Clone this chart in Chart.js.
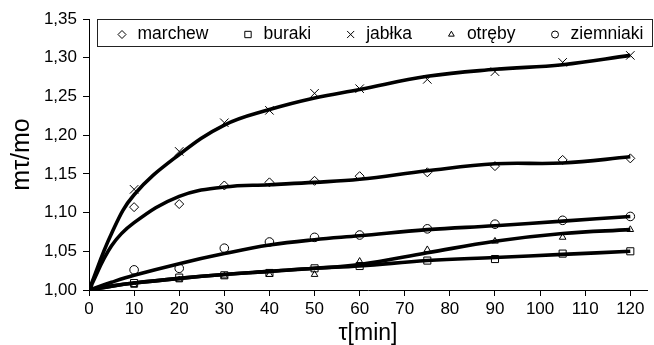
<!DOCTYPE html>
<html><head><meta charset="utf-8">
<script src="https://cdn.jsdelivr.net/npm/chart.js@4"></script>
<style>html,body{margin:0;padding:0;background:#fff}#wrap{width:654px;height:345px;position:relative}</style>
</head><body><div id="wrap"><canvas id="c" width="654" height="345"></canvas></div>
<script>
// ---- data ----
const times = [0, 10, 20, 30, 40, 50, 60, 75, 90, 105, 120];
const seriesNames = ['marchew', 'buraki', 'jabłka', 'otręby', 'ziemniaki'];
// measured points (markers)
const marchew   = [1.000, 1.107, 1.111, 1.135, 1.139, 1.141, 1.147, 1.152, 1.160, 1.168, 1.170];
const buraki    = [1.000, 1.009, 1.016, 1.019, 1.022, 1.028, 1.031, 1.038, 1.040, 1.047, 1.050];
const jablka    = [1.000, 1.130, 1.179, 1.216, 1.232, 1.254, 1.260, 1.272, 1.282, 1.294, 1.303];
const otreby    = [1.000, 1.006, 1.013, 1.018, 1.020, 1.020, 1.037, 1.052, 1.063, 1.068, 1.078];
const ziemniaki = [1.000, 1.026, 1.028, 1.054, 1.062, 1.068, 1.071, 1.079, 1.085, 1.090, 1.095];
// fitted trend curves
const fitTimes     = [0, 5, 10, 20, 30, 40, 50, 60, 75, 90, 105, 120];
const marchewFit   = [1.000, 1.057, 1.087, 1.121, 1.133, 1.136, 1.139, 1.143, 1.154, 1.163, 1.164, 1.172];
const burakiFit    = [1.000, 1.005, 1.009, 1.015, 1.020, 1.024, 1.028, 1.031, 1.038, 1.042, 1.046, 1.050];
const jablkaFit    = [1.000, 1.073, 1.123, 1.175, 1.213, 1.233, 1.248, 1.259, 1.276, 1.285, 1.291, 1.303];
const otrebyFit    = [1.000, 1.005, 1.009, 1.015, 1.020, 1.024, 1.028, 1.033, 1.048, 1.063, 1.073, 1.078];
const ziemniakiFit = [1.000, 1.010, 1.019, 1.034, 1.047, 1.058, 1.065, 1.070, 1.078, 1.083, 1.089, 1.095];
const xTicks = [0, 10, 20, 30, 40, 50, 60, 70, 80, 90, 100, 110, 120];
const yTicks = [1.00, 1.05, 1.10, 1.15, 1.20, 1.25, 1.30, 1.35];
const xTitle = 'τ[min]';
const yTitle = 'mτ/mo';

// ---- styles ----
const FONT = "'Liberation Sans', Arial, sans-serif";
const styles = [
  {pointStyle: 'rectRot', radius: 4.5, legendRadius: 4},
  {pointStyle: 'rect', radius: 5, legendRadius: 4.5},
  {pointStyle: 'crossRot', radius: 6, legendRadius: 5},
  {pointStyle: 'triangle', radius: 3.8, legendRadius: 3.3},
  {pointStyle: 'circle', radius: 4.3, legendRadius: 3.5}
];
const pointsData = [marchew, buraki, jablka, otreby, ziemniaki];
const fitData = [marchewFit, burakiFit, jablkaFit, otrebyFit, ziemniakiFit];
const toXY = (xs, arr) => arr.map((v, i) => ({x: xs[i], y: v}));

const datasets = [];
pointsData.forEach((arr, i) => {
  datasets.push({
    label: seriesNames[i], data: toXY(times, arr), showLine: false, order: 2,
    pointStyle: styles[i].pointStyle, pointRadius: styles[i].radius,
    pointBorderColor: '#000', pointBackgroundColor: 'rgba(0,0,0,0)', pointBorderWidth: 1
  });
});
fitData.forEach((arr, i) => {
  datasets.push({
    label: seriesNames[i] + ' trend', data: toXY(fitTimes, arr), showLine: true, order: 1,
    borderColor: '#000', borderWidth: 3.6, pointRadius: 0, tension: 0.4,
    fill: false
  });
});

const legendBox = {
  id: 'legendBox',
  afterDraw(chart) {
    const ctx = chart.ctx;
    const top = chart.chartArea.top, left = 97, right = 653, h = 28;
    ctx.save();
    ctx.fillStyle = '#fff';
    ctx.fillRect(left, top, right - left, h);
    ctx.strokeStyle = '#222'; ctx.lineWidth = 1;
    ctx.strokeRect(left + 0.5, top + 0.5, right - left - 1, h - 1);
    ctx.font = '17.5px ' + FONT;
    ctx.textBaseline = 'middle'; ctx.textAlign = 'left';
    let x = 122; const cy = top + 15.5;
    seriesNames.forEach((name, i) => {
      ctx.fillStyle = 'rgba(0,0,0,0)';
      ctx.strokeStyle = '#000';
      ctx.lineWidth = 1;
      Chart.helpers.drawPoint(ctx, {pointStyle: styles[i].pointStyle, radius: styles[i].legendRadius, borderWidth: 1}, x, cy);
      ctx.fillStyle = '#000';
      const tx = x + 15.5;
      ctx.fillText(name, tx, cy);
      x = tx + ctx.measureText(name).width + 39.5;
    });
    ctx.restore();
  }
};

new Chart(document.getElementById('c'), {
  type: 'line',
  data: {datasets},
  plugins: [legendBox],
  options: {
    responsive: false, animation: false, devicePixelRatio: 1,
    layout: {padding: {left: 0, right: 1, top: 19, bottom: 0}},
    plugins: {legend: {display: false}, tooltip: {enabled: false}},
    scales: {
      x: {
        type: 'linear', min: 0, max: 123.7,
        afterBuildTicks: s => { s.ticks = xTicks.map(v => ({value: v})); },
        afterFit: s => { s.height = 55; },
        grid: {display: true, drawOnChartArea: false, drawTicks: true, tickLength: 6, color: '#000', lineWidth: 1},
        border: {display: true, color: '#000', width: 1},
        ticks: {font: {family: FONT, size: 17}, color: '#000', padding: 3, maxRotation: 0, autoSkip: false},
        title: {display: true, text: xTitle, font: {family: FONT, size: 23, lineHeight: 1}, color: '#000', padding: {top: 0, bottom: 0}}
      },
      y: {
        type: 'linear', min: 1.0, max: 1.35,
        afterBuildTicks: s => { s.ticks = yTicks.map(v => ({value: v})); },
        afterFit: s => { s.width = 89; },
        grid: {display: true, drawOnChartArea: false, drawTicks: true, tickLength: 6, color: '#000', lineWidth: 1},
        border: {display: true, color: '#000', width: 1},
        ticks: {font: {family: FONT, size: 17}, color: '#000', padding: 6,
          callback: v => v.toFixed(2).replace('.', ',')},
        title: {display: true, text: yTitle, font: {family: FONT, size: 25, lineHeight: 1}, color: '#000', padding: {top: 10, bottom: 0}}
      }
    }
  }
});
</script>
</body></html>
